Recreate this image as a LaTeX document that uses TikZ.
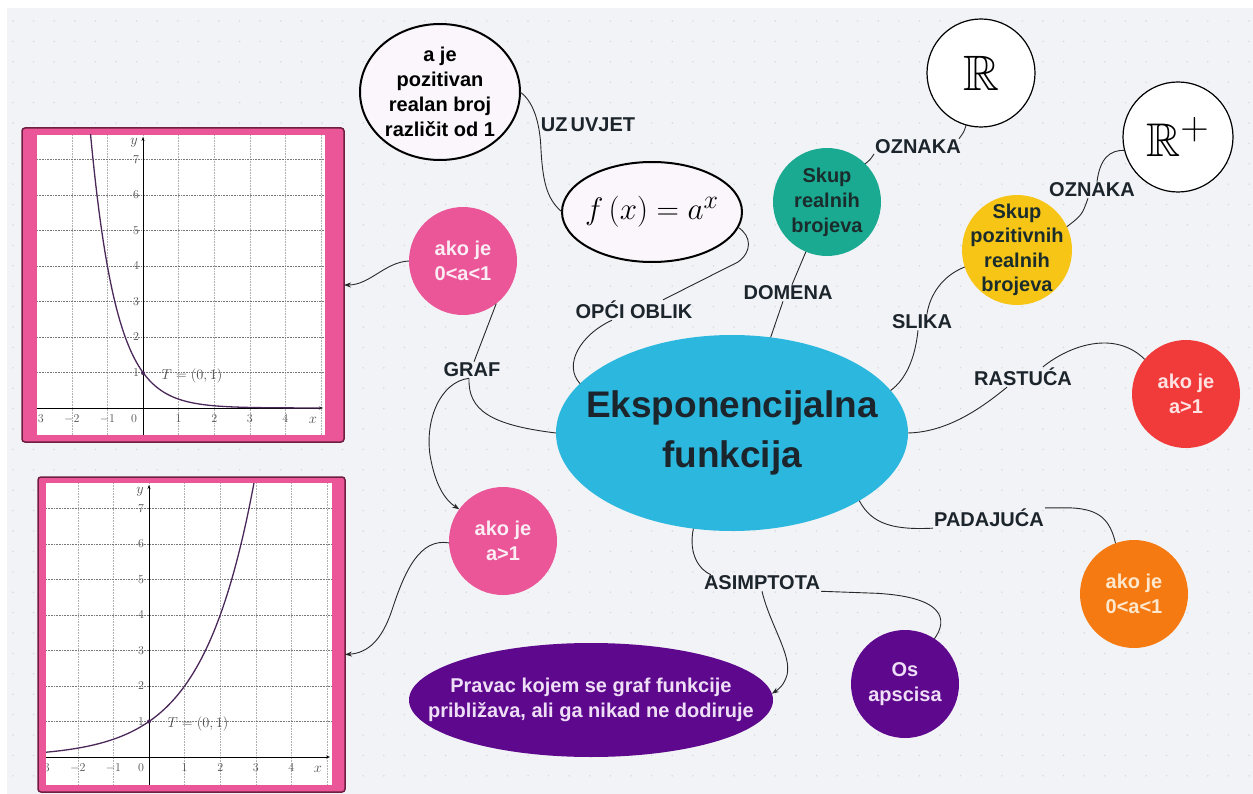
\documentclass[tikz,border=0pt]{standalone}
\usepackage[no-math]{fontspec}
\setmainfont{Liberation Sans}
\usepackage{amssymb}
\usetikzlibrary{shapes.geometric,arrows.meta}
\definecolor{bgc}{RGB}{242,243,246}
\definecolor{dotc}{RGB}{212,215,221}
\definecolor{pinkc}{RGB}{234,86,152}
\definecolor{framec}{RGB}{110,30,65}
\definecolor{tealc}{RGB}{26,170,146}
\definecolor{yelc}{RGB}{246,197,22}
\definecolor{redc}{RGB}{241,59,59}
\definecolor{orac}{RGB}{246,122,18}
\definecolor{purc}{RGB}{94,8,142}
\definecolor{cyanc}{RGB}{44,184,222}
\definecolor{darkt}{RGB}{28,36,44}
\definecolor{linec}{RGB}{40,40,40}
\definecolor{curvec}{RGB}{75,40,90}
\definecolor{gridc}{RGB}{175,175,175}
\definecolor{hgridc}{RGB}{120,120,120}
\definecolor{lavw}{RGB}{250,246,252}
\definecolor{pinkt}{RGB}{252,236,244}
\definecolor{redt}{RGB}{255,226,226}
\definecolor{orat}{RGB}{253,232,205}
\definecolor{purt}{RGB}{238,222,246}
\definecolor{tealt}{RGB}{26,44,44}
\definecolor{tickc}{RGB}{80,80,80}
\tikzset{
  ctxt/.style={align=center, font=\bfseries\fontsize{20}{25}\selectfont, inner sep=0pt},
  lbl/.style={font=\bfseries\fontsize{20}{22}\selectfont, text=darkt, inner sep=1pt},
  conn/.style={draw=linec, line width=0.9pt},
  arr/.style={conn, -{Stealth[length=7pt,width=5pt]}},
  bub/.style={circle, minimum size=108pt, inner sep=0pt, outer sep=0pt},
  ell/.style={ellipse, inner sep=0pt, outer sep=0pt},
  frame/.style={draw=framec, line width=1.5pt, fill=pinkc, rounded corners=3pt, inner sep=0pt, outer sep=0pt},
  tick/.style={font=\fontsize{12}{12}\selectfont, text=tickc, inner sep=0pt},
  vgrid/.style={gridc, densely dotted, line width=0.6pt},
  hgrid/.style={hgridc, densely dotted, line width=0.6pt},
  axis/.style={black, line width=0.9pt, -{Stealth[length=4pt,width=3pt]}},
  fcurve/.style={curvec, line width=1.3pt},
}
\begin{document}
\begin{tikzpicture}[x=1pt,y=-1pt]
\useasboundingbox (0,0) rectangle (1253,794);
\fill[white] (0,0) rectangle (1253,794);
\fill[bgc] (7,8) rectangle (1253,794);
\foreach \i in {0,...,60} \foreach \j in {0,...,37} \fill[dotc] ({13+20.6*\i},{21+20.4*\j}) circle (0.8);

% ---------- graph 1 ----------
\node[frame, minimum width=322pt, minimum height=314pt] (g1) at (183,285) {};
\fill[white] (37,135) rectangle (325,435);
\begin{scope}
\clip (37,135) rectangle (325,435);
\foreach \k in {-3,...,5} \draw[vgrid] ({143+35.6*\k},135) -- ({143+35.6*\k},435);
\foreach \k in {1,...,7} \draw[hgrid] (37,{408-35.5*\k}) -- (325,{408-35.5*\k});
\draw[axis] (37,408) -- (323,408);
\draw[axis] (143,435) -- (143,137);
\draw[fcurve] plot[domain=-1.55:5, samples=100, smooth] ({143+35.6*\x},{408-35.5*pow(4,-\x)});
\foreach \k in {-3,-2,-1,1,2,3,4} \node[tick] at ({143+35.6*\k},419) {$\k$};
\node[tick] at (134,419) {$0$};
\foreach \k in {1,...,7} \node[tick] at (136,{408-35.5*\k}) {$\k$};
\node[tick, font=\fontsize{14.4}{14.4}\selectfont] at (134,143) {$y$};
\node[tick, font=\fontsize{14.4}{14.4}\selectfont] at (313,420) {$x$};
\fill[curvec] (143,373) circle (2);
\node[tick, font=\fontsize{14.4}{14.4}\selectfont] at (192,376) {$T=(0,1)$};
\end{scope}

% ---------- graph 2 ----------
\node[frame, minimum width=307pt, minimum height=315pt] (g2) at (191.5,634.5) {};
\fill[white] (46,483) rectangle (332,785);
\begin{scope}
\clip (46,483) rectangle (332,785);
\foreach \k in {-3,...,5} \draw[vgrid] ({149+35.6*\k},483) -- ({149+35.6*\k},785);
\foreach \k in {1,...,7} \draw[hgrid] (46,{757-35.5*\k}) -- (332,{757-35.5*\k});
\draw[axis] (46,757) -- (330,757);
\draw[axis] (149,785) -- (149,485);
\draw[fcurve] plot[domain=-3.2:3.1, samples=100, smooth] ({149+35.6*\x},{757-35.5*pow(2,\x)});
\foreach \k in {-3,-2,-1,1,2,3,4} \node[tick] at ({149+35.6*\k},768) {$\k$};
\node[tick] at (141,768) {$0$};
\foreach \k in {1,...,7} \node[tick] at (141,{757-35.5*\k}) {$\k$};
\node[tick, font=\fontsize{14.4}{14.4}\selectfont] at (140,492) {$y$};
\node[tick, font=\fontsize{14.4}{14.4}\selectfont] at (318,769) {$x$};
\fill[curvec] (149,721.5) circle (2);
\node[tick, font=\fontsize{14.4}{14.4}\selectfont] at (198,724) {$T=(0,1)$};
\end{scope}

% ---------- nodes ----------
\node[ell, fill=cyanc, minimum width=352pt, minimum height=196pt,
  label={[align=center, inner sep=0pt, font=\bfseries\fontsize{37}{50}\selectfont, text=darkt]center:Eksponencijalna\\funkcija}] (main) at (732,433) {};
\node[ell, draw=black, line width=2pt, fill=lavw, minimum width=160pt, minimum height=136pt,
  label={[ctxt, text=black]center:a je\\pozitivan\\realan broj\\različit od 1}] (cond) at (440,92) {};
\node[ell, draw=black, line width=2pt, fill=lavw, minimum width=180pt, minimum height=100pt,
  label={[inner sep=0pt]center:\scalebox{1.25}{\fontsize{24.88}{25}\selectfont$f\,(x)=a^{x}$}}] (fx) at (652,212) {};
\node[bub, fill=tealc, label={[ctxt, text=tealt]center:Skup\\realnih\\brojeva}] (teal) at (827,202) {};
\node[bub, draw=black, line width=1.2pt, fill=white,
  label={[inner sep=0pt]center:\scalebox{2}{\fontsize{24.88}{25}\selectfont$\mathbb{R}$}}] (R) at (981,73) {};
\node[bub, minimum size=110pt, draw=black, line width=1.2pt, fill=white,
  label={[inner sep=0pt]center:\scalebox{1.9}{\fontsize{24.88}{25}\selectfont$\mathbb{R}^{+}$}}] (Rp) at (1178,137) {};
\node[bub, minimum size=110pt, fill=yelc,
  label={[ctxt, text=tealt, font=\bfseries\fontsize{20}{24.5}\selectfont]center:Skup\\pozitivnih\\realnih\\brojeva}] (yel) at (1017,250) {};
\node[bub, fill=redc, label={[ctxt, text=redt]center:ako je\\a>1}] (red) at (1186,394) {};
\node[bub, fill=orac, label={[ctxt, text=orat]center:ako je\\0<a<1}] (ora) at (1134,594) {};
\node[bub, fill=purc, label={[ctxt, text=purt]center:Os\\apscisa}] (os) at (905,684) {};
\node[ell, fill=purc, minimum width=364pt, minimum height=114pt,
  label={[ctxt, text=purt]center:Pravac kojem se graf funkcije\\približava, ali ga nikad ne dodiruje}] (prav) at (591,700) {};
\node[bub, fill=pinkc, label={[ctxt, text=pinkt]center:ako je\\0<a<1}] (pk1) at (463,261) {};
\node[bub, fill=pinkc, label={[ctxt, text=pinkt]center:ako je\\a>1}] (pk2) at (503,541) {};

% ---------- link labels ----------
\node[lbl] (uz) at (588,125) {UZ\hspace{3pt}UVJET};
\node[lbl] (opci) at (634,310) {OPĆI OBLIK};
\node[lbl] (domena) at (788,293) {DOMENA};
\node[lbl] (oz1) at (918,147) {OZNAKA};
\node[lbl] (oz2) at (1092,190) {OZNAKA};
\node[lbl] (slika) at (922,322) {SLIKA};
\node[lbl] (rast) at (1023,377) {RASTUĆA};
\node[lbl] (pada) at (989,518) {PADAJUĆA};
\node[lbl] (asim) at (762,583) {ASIMPTOTA};
\node[lbl] (graf) at (472,370) {GRAF};

% ---------- connectors ----------
\draw[conn] (cond.east) .. controls (532,100) and (540,120) .. (541,150) .. controls (543,185) and (548,200) .. (fx.west);
\draw[conn] (fx.-10) .. controls (752,236) and (752,252) .. (738,262) -- ([xshift=29pt]opci.north);
\draw[conn] ([xshift=-22pt]opci.south) .. controls (580,335) and (563,365) .. (main.162);
\draw[conn] (teal.247) -- ([xshift=4pt]domena.north);
\draw[conn] ([xshift=-5pt]domena.south) -- (main.68);
\draw[conn] (teal.45) .. controls (870,160) .. ([yshift=-7pt]oz1.west);
\draw[conn] ([xshift=-3pt]oz1.north east) .. controls (964,132) .. (R.254);
\draw[conn] (yel.25) .. controls (1082,215) .. ([xshift=-4pt]oz2.south);
\draw[conn] ([xshift=5pt]oz2.north) .. controls (1100,158) and (1110,150) .. (Rp.194);
\draw[conn] (yel.198) .. controls (942,276) and (930,295) .. ([xshift=5pt]slika.north);
\draw[conn] ([xshift=-4pt]slika.south) .. controls (915,360) and (905,380) .. (main.15);
\draw[conn] (main.0) .. controls (950,432) and (985,405) .. ([xshift=-16pt]rast.south);
\draw[conn] ([xshift=20pt]rast.north) .. controls (1070,345) and (1115,330) .. (red.140);
\draw[conn] (main.-28) .. controls (872,525) and (895,530) .. (pada.south west);
\draw[conn] (pada.north east) -- ++(25,0) .. controls (1100,509) and (1110,520) .. (ora.110);
\draw[conn] (main.-112) .. controls (688,555) and (700,570) .. ([xshift=8pt]asim.north west);
\draw[conn] (asim.south east) -- ++(55,2) .. controls (945,597) and (948,620) .. (os.57);
\draw[arr] (asim.south) .. controls (770,625) and (792,655) .. (787,675) .. controls (784,685) and (779,689) .. (prav.2);
\draw[conn] (pk1.-52) -- ([xshift=2pt]graf.north);
\draw[conn] ([xshift=-3pt]graf.south) .. controls (468,410) and (490,425) .. (main.west);
\draw[arr] ([xshift=-3pt]graf.south) .. controls (440,382) and (425,420) .. (430,455) .. controls (435,485) and (445,500) .. (pk2.144);
\draw[arr] (pk1.west) .. controls (385,262) and (370,285) .. (g1.east);
\draw[arr] (pk2.182) .. controls (420,538) and (405,570) .. (392,610) .. controls (382,640) and (368,653) .. ([yshift=-20pt]g2.east);
\end{tikzpicture}
\end{document}
